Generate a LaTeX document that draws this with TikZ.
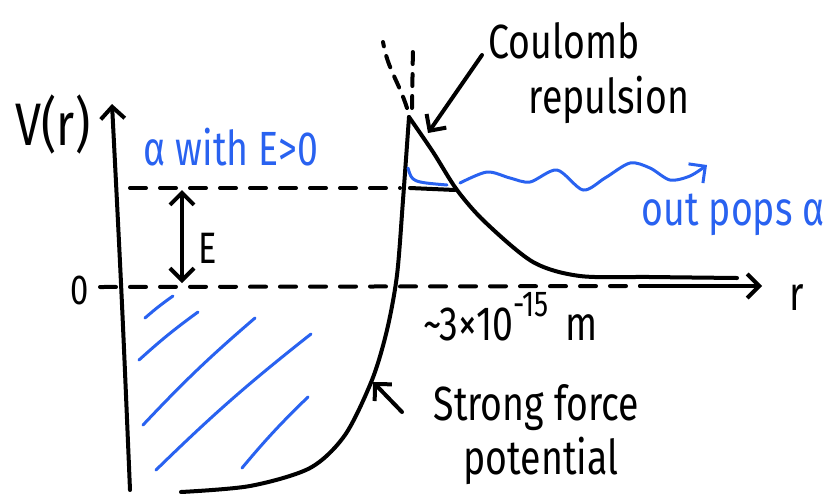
\documentclass[tikz,border=0pt]{standalone}
\usepackage{fontspec}
\newfontfamily\handfont[FakeStretch=0.78]{Fira Sans}
\usetikzlibrary{arrows.meta}
\definecolor{inkblue}{RGB}{41,98,240}

\begin{document}
\begin{tikzpicture}[x=0.5pt,y=-0.5pt,line width=2pt,line cap=round,line join=round,
  >={Straight Barb[length=6pt,width=12pt]},
  hand/.style={font=\handfont\fontsize{24}{28}\selectfont},
  dashline/.style={dash pattern=on 8pt off 7pt}]
  \useasboundingbox (0,0) rectangle (823,493);
  % axes
  \coordinate (origin) at (130,490);
  \coordinate (vtop) at (112,104);
  \draw[->] (origin) .. controls (122,300) .. (vtop);
  \node[hand,font=\handfont\fontsize{30}{34}\selectfont] (vlab) at (53,124) {V(r)};
  \node[hand,font=\handfont\fontsize{21}{24}\selectfont] (zero) at (80,290) {0};
  \coordinate (zstart) at (100,287);
  \coordinate (zmid) at (640,286);
  \coordinate (rtip) at (762,286);
  \draw[dashline] (zstart) -- (zmid);
  \draw[->] (zmid) -- (rtip);
  \node[hand,anchor=base] (rlab) at (797,310) {r};
  % energy level
  \coordinate (lstart) at (130,188);
  \coordinate (lend) at (400,188);
  \draw[dashline] (lstart) -- (lend);
  \draw (410,188) -- (455,190);
  \coordinate (etop) at (182,190);
  \coordinate (ebot) at (182,283);
  \draw[<->] (etop) -- (ebot);
  \node[hand,font=\handfont\fontsize{22}{24}\selectfont] (elab) at (208,248) {E};
  \node[hand,text=inkblue,anchor=base west] (alpha) at (135,165) {α with E>0};
  % strong force well
  \draw plot[smooth] coordinates {(181,492) (250,486) (310,468) (345,435) (372,380)
    (387,330) (397,275) (403,200) (409,117)};
  % coulomb tail
  \coordinate (peak) at (409,117);
  \draw plot[smooth] coordinates {(peak) (433,152) (457,190) (485,222) (533,262)
    (580,276) (650,277) (737,278)};
  \draw[dash pattern=on 6pt off 5pt] (407,108) .. controls (398,80) and (388,70) .. (383,42);
  \draw[dash pattern=on 6pt off 5pt] (412,108) -- (413,45);
  % blue hatching
  \draw[inkblue,line width=1.5pt] (145,318) to[bend left=3] (173,296);
  \draw[inkblue,line width=1.5pt] (139,360) to[bend left=3] (198,312);
  \draw[inkblue,line width=1.5pt] (143,425) to[bend left=3] (255,318);
  \draw[inkblue,line width=1.5pt] (156,470) to[bend left=3] (311,334);
  \draw[inkblue,line width=1.5pt] (242,468) to[bend left=3] (308,397);
  % tunnelling alpha
  \draw[inkblue,line width=1.5pt] (408,168) .. controls (412,182) .. (447,185);
  \draw[inkblue,line width=1.5pt,->] plot[smooth] coordinates {(460,183) (487,172)
    (510,178) (530,182) (557,170) (583,190) (605,178) (630,163) (650,168) (670,180)
    (690,176) (707,165)};
  \node[hand,text=inkblue,anchor=base west] (pops) at (633,225) {out pops α};
  % labels
  \node[hand,anchor=base] (coul) at (564,58) {Coulomb};
  \node[hand,anchor=base] (repul) at (609,113) {repulsion};
  \coordinate (cstart) at (482,55);
  \coordinate (ctip) at (428,133);
  \draw[->] (cstart) -- (ctip);
  \node[hand,anchor=base west] (dist) at (415,340)
    {\textasciitilde 3×10\raisebox{0.5em}{\fontsize{18}{20}\selectfont -15}\,\,m};
  \node[hand,anchor=base west] (strong) at (425,420) {Strong force};
  \node[hand,anchor=base west] (pot) at (455,474) {potential};
  \coordinate (sstart) at (402,412);
  \coordinate (stip) at (373,382);
  \draw[->] (sstart) -- (stip);
\end{tikzpicture}
\end{document}
